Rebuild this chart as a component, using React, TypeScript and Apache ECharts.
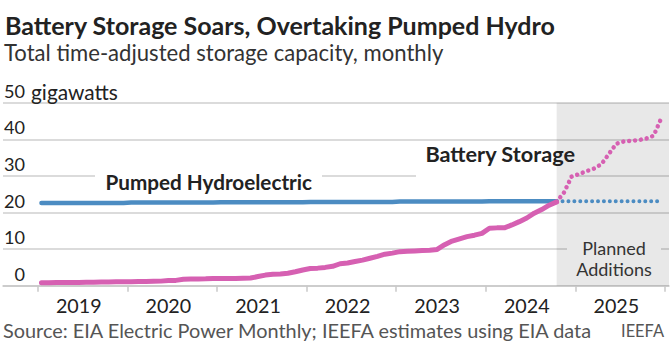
import React, { useEffect, useRef } from "react";
import * as echarts from "echarts";

// ---- data ----
const years = ["2019", "2020", "2021", "2022", "2023", "2024", "2025"];
const yTicks = [0, 10, 20, 30, 40, 50];

// Monthly battery storage capacity (GW), Jan 2019 .. Oct 2024
const batteryActual = [
  0.8, 0.8, 0.85, 0.85, 0.9, 0.9, 0.95, 0.95, 1.0, 1.0, 1.05, 1.1,
  1.1, 1.15, 1.15, 1.2, 1.25, 1.4, 1.45, 1.75, 1.8, 1.85, 1.9, 2.0,
  2.0, 2.0, 2.0, 2.05, 2.1, 2.5, 2.9, 3.1, 3.2, 3.4, 3.8, 4.3,
  4.7, 4.8, 5.0, 5.3, 6.0, 6.2, 6.6, 7.0, 7.5, 8.0, 8.6, 8.9,
  9.3, 9.4, 9.5, 9.6, 9.7, 9.9, 11.2, 12.2, 12.8, 13.4, 13.8, 14.3,
  15.7, 15.8, 15.8, 16.6, 17.5, 18.5, 19.8, 20.8, 22.0, 22.9,
];
// Planned battery, Oct 2024 .. Dec 2025
const batteryPlanned = [
  22.9, 25.5, 29.8, 30.5, 31.3, 32.0, 33.2, 36.0, 38.8, 39.4, 39.6, 39.8, 40.2, 41.0, 45.7,
];
// Pumped hydro, Jan 2019 .. Oct 2024
const hydroActual = [
  22.6, 22.6, 22.6, 22.6, 22.6, 22.6, 22.6, 22.6, 22.6, 22.6, 22.6, 22.6,
  22.7, 22.7, 22.7, 22.7, 22.7, 22.7, 22.7, 22.7, 22.7, 22.7, 22.7, 22.7,
  22.8, 22.8, 22.8, 22.8, 22.8, 22.8, 22.8, 22.8, 22.8, 22.8, 22.8, 22.8,
  22.9, 22.9, 22.9, 22.9, 22.9, 22.9, 22.9, 22.9, 22.9, 22.9, 22.9, 22.9,
  23.0, 23.0, 23.0, 23.0, 23.0, 23.0, 23.0, 23.0, 23.0, 23.0, 23.0, 23.0,
  23.1, 23.1, 23.1, 23.1, 23.1, 23.1, 23.1, 23.1, 23.1, 23.1,
];
const hydroPlanned = [
  23.1, 23.1, 23.1, 23.1, 23.1, 23.1, 23.1, 23.1, 23.1, 23.1, 23.1, 23.1, 23.1, 23.1, 23.1,
];
const plannedStartMonth = 69; // Oct 2024 (month index from Jan 2019)

const FAMILY = "Lato, 'Open Sans', sans-serif";
const BLUE = "#4c8cc2";
const PINK = "#d660b2";

function fitSize(text: string, weight: string, target: number, fallback: number): number {
  try {
    const ctx = document.createElement("canvas").getContext("2d");
    if (!ctx) return fallback;
    ctx.font = `${weight} 100px ${FAMILY}`;
    const w = ctx.measureText(text).width;
    if (!w) return fallback;
    return Math.round((1000 * target) / w) / 10;
  } catch {
    return fallback;
  }
}

export default function App() {
  const ref = useRef<HTMLDivElement>(null);

  useEffect(() => {
    if (!ref.current) return;
    const chart = echarts.init(ref.current, null, { renderer: "svg" });

    const actualSeries = (vals: number[]) => vals.map((v, i) => [i, v]);
    const plannedSeries = (vals: number[]) =>
      vals.map((v, i) => [plannedStartMonth + i, v]);

    const yearTickPos = years.map((_, k) => 12 * k - 0.5).concat([12 * years.length - 0.5]);
    const yearLabelPos = years.map((_, k) => 12 * k + 5);

    const dotted = [0.01, 5.9];

    const titleText = "Battery Storage Soars, Overtaking Pumped Hydro";
    const subText = "Total time-adjusted storage capacity, monthly";
    const srcText = "Source: EIA Electric Power Monthly; IEEFA estimates using EIA data";

    const fTitle = Math.min(25, fitSize(titleText, "bold", 570, 22));
    const fSub = fitSize(subText, "normal", 440, 20);
    const fGiga = fitSize("gigawatts", "normal", 87, 19);
    const fHydro = fitSize("Pumped Hydroelectric", "bold", 207, 18.5);
    const fBatt = fitSize("Battery Storage", "bold", 150, 19);
    const fSrc = fitSize(srcText, "normal", 591, 18);
    const fIeefa = fitSize("IEEFA", "normal", 43, 17.5);
    const fYear = fitSize("2019", "normal", 45.7, 20);
    const fY = fitSize("40", "normal", 21, 19);
    const fPlan = Math.min(18, fitSize("Additions", "normal", 86, 18));

    const txt = (
      x: number,
      y: number,
      text: string,
      font: string,
      fill: string,
      align: string = "left"
    ) => ({
      type: "text",
      x,
      y,
      z: 100,
      style: {
        text,
        font,
        fill,
        textAlign: align,
        align,
        textVerticalAlign: "middle",
        verticalAlign: "middle",
      },
    });

    chart.setOption({
      animation: false,
      backgroundColor: "#ffffff",
      grid: { left: 3, right: 3, top: 102.7, bottom: 77.3, containLabel: false },
      xAxis: {
        type: "value",
        min: -5.15,
        max: 84.05,
        splitLine: { show: false },
        axisLine: { show: true, lineStyle: { color: "#c8c8c8", width: 1.5 } },
        axisTick: {
          show: true,
          customValues: yearTickPos,
          length: 6,
          lineStyle: { color: "#c8c8c8", width: 1.5 },
        },
        axisLabel: {
          customValues: yearLabelPos,
          formatter: (v: number) => years[Math.round((v - 5) / 12)] ?? "",
          fontFamily: FAMILY,
          fontSize: fYear,
          color: "#222",
          margin: 10,
        },
      },
      yAxis: {
        type: "value",
        min: yTicks[0],
        max: yTicks[yTicks.length - 1],
        interval: 10,
        axisLine: { show: false },
        axisTick: { show: false },
        splitLine: { lineStyle: { color: "#cfcfcf", width: 1.5 } },
        axisLabel: {
          inside: true,
          align: "right",
          verticalAlign: "bottom",
          margin: 22,
          fontFamily: FAMILY,
          fontSize: fY,
          color: "#222",
          padding: [0, 0, 3, 0],
        },
      },
      graphic: [
        txt(5, 24.5, titleText, `bold ${fTitle}px ${FAMILY}`, "#222"),
        txt(4, 52.5, subText, `${fSub}px ${FAMILY}`, "#333"),
        txt(31, 91, "gigawatts", `${fGiga}px ${FAMILY}`, "#222"),
        // label backgrounds (above gridlines, below series)
        { type: "rect", z: 1, shape: { x: 95, y: 168, width: 227, height: 28 }, style: { fill: "#fff" } },
        { type: "rect", z: 1, shape: { x: 416, y: 141, width: 161, height: 37 }, style: { fill: "#fff" } },
        { type: "rect", z: 1, shape: { x: 567, y: 236, width: 94, height: 44 }, style: { fill: "#fff" } },
        txt(105.5, 182, "Pumped Hydroelectric", `bold ${fHydro}px ${FAMILY}`, "#222"),
        txt(575, 153.5, "Battery Storage", `bold ${fBatt}px ${FAMILY}`, "#222", "right"),
        txt(614, 248, "Planned", `${fPlan}px ${FAMILY}`, "#333", "center"),
        txt(614, 269, "Additions", `${fPlan}px ${FAMILY}`, "#333", "center"),
        txt(3, 330, srcText, `${fSrc}px ${FAMILY}`, "#555"),
        txt(664, 330, "IEEFA", `${fIeefa}px ${FAMILY}`, "#555", "right"),
      ],
      series: [
        {
          name: "Shade",
          type: "line",
          data: [],
          silent: true,
          markArea: {
            silent: true,
            itemStyle: { color: "rgba(0,0,0,0.09)" },
            data: [[{ xAxis: plannedStartMonth }, { xAxis: 84.05 }]],
          },
        },
        {
          name: "Pumped Hydroelectric",
          type: "line",
          data: actualSeries(hydroActual),
          showSymbol: false,
          lineStyle: { color: BLUE, width: 4.5, cap: "round" },
          z: 3,
        },
        {
          name: "Pumped Hydroelectric planned",
          type: "line",
          data: plannedSeries(hydroPlanned),
          showSymbol: false,
          lineStyle: { color: BLUE, width: 4, type: dotted, cap: "round" },
          z: 3,
        },
        {
          name: "Battery Storage",
          type: "line",
          data: actualSeries(batteryActual),
          showSymbol: false,
          lineStyle: { color: PINK, width: 5, cap: "round", join: "round" },
          z: 4,
        },
        {
          name: "Battery Storage planned",
          type: "line",
          data: plannedSeries(batteryPlanned),
          showSymbol: false,
          lineStyle: { color: PINK, width: 4.5, type: dotted, cap: "round" },
          z: 4,
        },
      ],
    });

    return () => chart.dispose();
  }, []);

  return (
    <div
      ref={ref}
      style={{ position: "fixed", left: 0, top: 0, width: 672, height: 363, background: "#fff" }}
    />
  );
}
